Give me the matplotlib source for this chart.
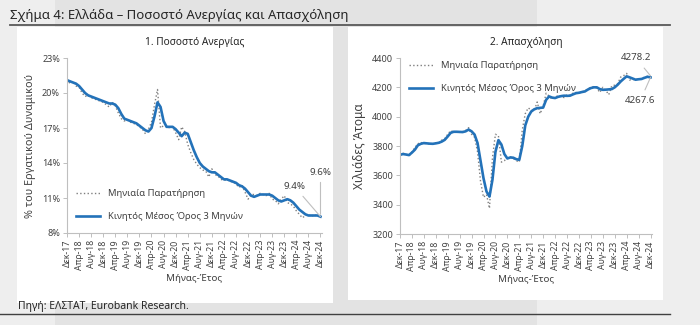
import matplotlib

matplotlib.use("Agg")
import matplotlib.pyplot as plt
from matplotlib.patches import Rectangle
from matplotlib.lines import Line2D

plt.rcParams["font.family"] = ["Noto Sans", "DejaVu Sans"]

# months since Dec-17 (0 .. 84 = Dec-24)
months = list(range(85))

tick_pos = list(range(0, 85, 4))
tick_labels = [
    "Δεκ-17", "Απρ-18", "Αυγ-18", "Δεκ-18", "Απρ-19", "Αυγ-19", "Δεκ-19",
    "Απρ-20", "Αυγ-20", "Δεκ-20", "Απρ-21", "Αυγ-21", "Δεκ-21", "Απρ-22",
    "Αυγ-22", "Δεκ-22", "Απρ-23", "Αυγ-23", "Δεκ-23", "Απρ-24", "Αυγ-24",
    "Δεκ-24",
]

# unemployment rate, % of labour force
unemp_monthly = [
    21.2, 20.8, 21.0, 20.6, 20.5, 20.0, 19.7, 19.8, 19.6, 19.5,
    19.4, 19.3, 19.2, 19.0, 18.8, 19.2, 18.9, 18.3, 17.8, 17.6,
    17.7, 17.5, 17.4, 17.3, 17.1, 16.9, 16.5, 16.9, 17.5, 19.0,
    20.3, 17.0, 17.2, 17.2, 17.0, 17.1, 16.6, 16.0, 17.1, 16.7,
    15.6, 14.9, 14.3, 13.9, 13.6, 13.4, 13.3, 12.8, 13.5, 13.0,
    12.9, 12.6, 12.5, 12.6, 12.4, 12.4, 12.2, 11.9, 12.1, 11.5,
    10.9, 11.3, 11.3, 11.2, 11.4, 11.3, 11.2, 11.4, 10.9, 10.8,
    10.5, 10.9, 11.2, 10.6, 10.5, 10.3, 9.9, 9.6, 9.3, 9.5,
    9.6, 9.4, 9.6, 9.4, 9.6,
]
unemp_ma3 = [
    21.1, 21.0, 20.9, 20.8, 20.6, 20.3, 20.0, 19.8, 19.7, 19.6,
    19.5, 19.4, 19.3, 19.2, 19.1, 19.1, 19.0, 18.7, 18.2, 17.8,
    17.7, 17.6, 17.5, 17.4, 17.2, 17.0, 16.8, 16.7, 17.0, 18.0,
    19.2, 18.8, 17.6, 17.1, 17.1, 17.1, 16.9, 16.6, 16.3, 16.6,
    16.5, 15.8, 15.1, 14.5, 14.0, 13.7, 13.5, 13.3, 13.2, 13.2,
    13.0, 12.8, 12.6, 12.6, 12.5, 12.4, 12.3, 12.1, 12.0, 11.8,
    11.5, 11.2, 11.1, 11.2, 11.3, 11.3, 11.3, 11.3, 11.2, 11.0,
    10.8, 10.7, 10.8, 10.9, 10.8, 10.6, 10.3, 10.0, 9.8, 9.6,
    9.5, 9.5, 9.5, 9.5, 9.4,
]
unemp_ticks = [8, 11, 14, 17, 20, 23]
unemp_tick_labels = ["8%", "11%", "14%", "17%", "20%", "23%"]

# employment, thousands of persons
empl_monthly = [
    3735, 3750, 3745, 3730, 3760, 3790, 3815, 3825, 3815, 3820,
    3812, 3815, 3822, 3820, 3840, 3850, 3880, 3905, 3895, 3898,
    3893, 3898, 3905, 3925, 3880, 3860, 3760, 3560, 3450, 3470,
    3375, 3720, 3880, 3870, 3690, 3700, 3720, 3725, 3715, 3700,
    3690, 3910, 4020, 4060, 4045, 4040, 4100, 4020, 4070, 4160,
    4140, 4120, 4130, 4145, 4140, 4130, 4150, 4145, 4160, 4165,
    4160, 4170, 4175, 4190, 4200, 4205, 4195, 4165, 4200, 4180,
    4150, 4210, 4215, 4225, 4270, 4280, 4295, 4250, 4255, 4250,
    4260, 4255, 4270, 4275, 4278.2,
]
empl_ma3 = [
    3740, 3745, 3742, 3738, 3755, 3775, 3805, 3815, 3820, 3818,
    3816, 3815, 3818, 3822, 3830, 3842, 3865, 3890, 3897, 3897,
    3896, 3895, 3900, 3912, 3900, 3878, 3820, 3700, 3580, 3490,
    3455, 3570, 3760, 3840, 3810, 3745, 3715, 3722, 3720, 3710,
    3706, 3800, 3940, 4000, 4035, 4050, 4058, 4060, 4062, 4115,
    4138, 4130, 4127, 4135, 4140, 4143, 4142, 4143, 4152, 4160,
    4163, 4168, 4172, 4185, 4195, 4200, 4200, 4188, 4183, 4184,
    4186, 4188, 4200, 4218, 4240, 4258, 4275, 4268, 4260, 4252,
    4255, 4257, 4265, 4272, 4267.6,
]
empl_ticks = [3200, 3400, 3600, 3800, 4000, 4200, 4400]

BLUE = "#2372b9"
GREY = "#7f7f7f"
AXIS = "#bfbfbf"
TEXT = "#404040"

fig = plt.figure(figsize=(7, 3.25), dpi=100, facecolor="#eeeeee")

# page background and white panels
fig.patches.append(Rectangle((55 / 700, 0), 482 / 700, 1, transform=fig.transFigure,
                             facecolor="#e3e3e3", edgecolor="none", zorder=-3))
fig.patches.append(Rectangle((17 / 700, 22 / 325), 316 / 700, 276 / 325,
                             transform=fig.transFigure, facecolor="white",
                             edgecolor="none", zorder=-2))
fig.patches.append(Rectangle((348 / 700, 25 / 325), 315 / 700, 273 / 325,
                             transform=fig.transFigure, facecolor="white",
                             edgecolor="none", zorder=-2))

fig.text(10 / 700, 1 - 16 / 325, "Σχήμα 4: Ελλάδα – Ποσοστό Ανεργίας και Απασχόληση",
         fontsize=9.5, color="#262626", va="center", ha="left")
fig.add_artist(Line2D([10 / 700, 670 / 700], [1 - 25 / 325] * 2, color="#595959", lw=1.3))
fig.text(18 / 700, 1 - 306 / 325, "Πηγή: ΕΛΣΤΑΤ, Eurobank Research.",
         fontsize=7.5, color="#262626", va="center", ha="left")
fig.add_artist(Line2D([0, 670 / 700], [1 - 314 / 325] * 2, color="#404040", lw=1.0))


def style_axis(ax, yticks, ylabels, ylim, ylabel, ylabel_size, title):
    ax.set_facecolor("white")
    for side in ("top", "right"):
        ax.spines[side].set_visible(False)
    for side in ("left", "bottom"):
        ax.spines[side].set_color(AXIS)
        ax.spines[side].set_linewidth(0.8)
    ax.set_xlim(0, 84.5)
    ax.set_ylim(*ylim)
    ax.set_xticks(tick_pos)
    ax.set_xticklabels(tick_labels, rotation=90, fontsize=6.3, color=TEXT)
    ax.set_yticks(yticks)
    ax.set_yticklabels(ylabels, fontsize=6.5, color=TEXT)
    ax.tick_params(axis="both", colors=AXIS, length=3, width=0.7, labelcolor=TEXT, pad=2)
    ax.set_xlabel("Μήνας-Έτος", fontsize=7, color=TEXT, labelpad=3)
    ax.set_ylabel(ylabel, fontsize=ylabel_size, color=TEXT, labelpad=4)
    ax.set_title(title, fontsize=7.3, color="#262626", pad=9)


ax1 = fig.add_axes([67 / 700, 1 - 233 / 325, 255 / 700, 175 / 325])
ax1.plot(months, unemp_monthly, color=GREY, lw=1.0, ls=":", label="Μηνιαία Παρατήρηση")
ax1.plot(months, unemp_ma3, color=BLUE, lw=1.9, label="Κινητός Μέσος Όρος 3 Μηνών")
style_axis(ax1, unemp_ticks, unemp_tick_labels, (8, 23),
           "% του Εργατικού Δυναμικού", 7.8, "1. Ποσοστό Ανεργίας")
ax1.legend(loc="lower left", bbox_to_anchor=(0.0, 0.02), frameon=False, fontsize=6.8,
           handlelength=2.6, labelspacing=1.45, labelcolor=TEXT)
ax1.annotate(f"{unemp_ma3[-1]:.1f}%", xy=(84, unemp_ma3[-1]), xytext=(75.5, 11.95),
             fontsize=7, color=TEXT, ha="center", va="center", annotation_clip=False,
             arrowprops=dict(arrowstyle="-", color=AXIS, lw=0.8, shrinkA=2, shrinkB=0))
ax1.annotate(f"{unemp_monthly[-1]:.1f}%", xy=(84, unemp_monthly[-1]), xytext=(84, 13.2),
             fontsize=7, color=TEXT, ha="center", va="center", annotation_clip=False,
             arrowprops=dict(arrowstyle="-", color=AXIS, lw=0.8, shrinkA=2, shrinkB=0))

ax2 = fig.add_axes([400 / 700, 1 - 234 / 325, 252 / 700, 176 / 325])
ax2.plot(months, empl_monthly, color=GREY, lw=1.0, ls=":", label="Μηνιαία Παρατήρηση")
ax2.plot(months, empl_ma3, color=BLUE, lw=1.9, label="Κινητός Μέσος Όρος 3 Μηνών")
style_axis(ax2, empl_ticks, [str(t) for t in empl_ticks], (3200, 4400),
           "Χιλιάδες Άτομα", 8.5, "2. Απασχόληση")
ax2.legend(loc="upper left", bbox_to_anchor=(0.0, 1.03), frameon=False, fontsize=6.8,
           handlelength=2.6, labelspacing=1.45, labelcolor=TEXT)
ax2.annotate(f"{empl_monthly[-1]:.1f}", xy=(84, empl_monthly[-1]), xytext=(79, 4403),
             fontsize=7, color=TEXT, ha="center", va="center", annotation_clip=False,
             arrowprops=dict(arrowstyle="-", color=AXIS, lw=0.8, shrinkA=3, shrinkB=0))
ax2.annotate(f"{empl_ma3[-1]:.1f}", xy=(84, empl_ma3[-1]), xytext=(80.5, 4107),
             fontsize=7, color=TEXT, ha="center", va="center", annotation_clip=False,
             arrowprops=dict(arrowstyle="-", color=AXIS, lw=0.8, shrinkA=3, shrinkB=0))

fig.savefig("out.png", dpi=100, facecolor=fig.get_facecolor())
